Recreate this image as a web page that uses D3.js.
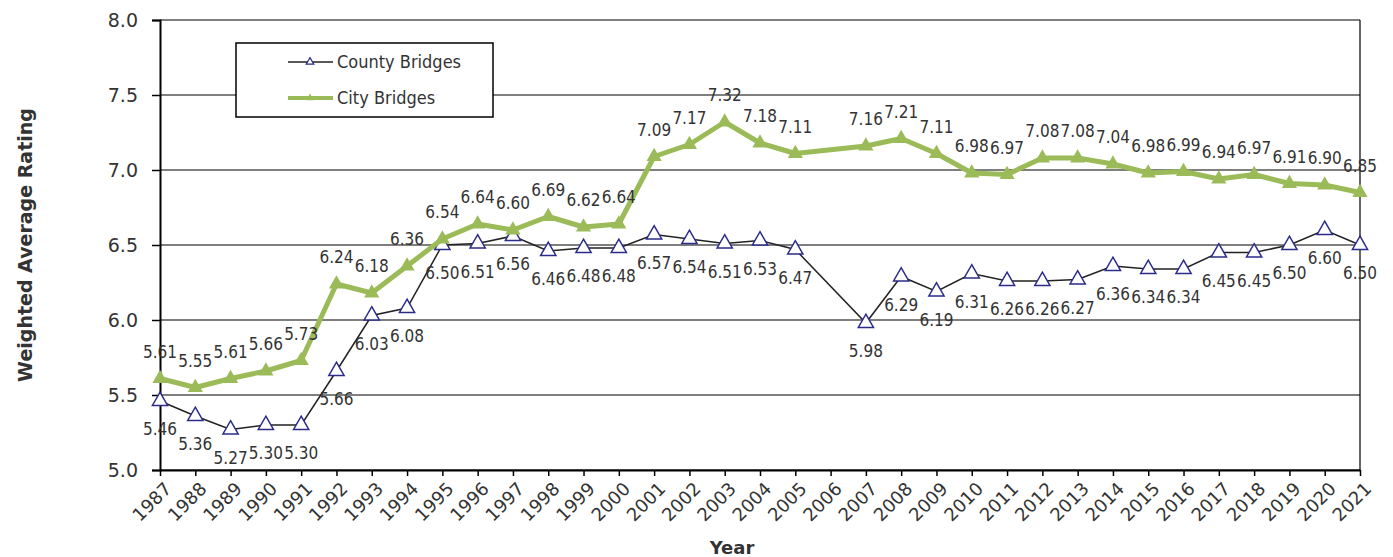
<!DOCTYPE html>
<html>
<head>
<meta charset="utf-8">
<script src="https://cdn.jsdelivr.net/npm/d3@7"></script>
<style>
  body { margin: 0; background: #fff; }
  text { fill: #333; }
</style>
</head>
<body>
<div id="canvas"></div>
<script>
const years = ["1987", "1988", "1989", "1990", "1991", "1992", "1993", "1994", "1995", "1996",
  "1997", "1998", "1999", "2000", "2001", "2002", "2003", "2004", "2005", "2006",
  "2007", "2008", "2009", "2010", "2011", "2012", "2013", "2014", "2015", "2016",
  "2017", "2018", "2019", "2020", "2021"];

// 2006 has no reading in either series
const county = [5.46, 5.36, 5.27, 5.30, 5.30, 5.66, 6.03, 6.08, 6.50, 6.51,
  6.56, 6.46, 6.48, 6.48, 6.57, 6.54, 6.51, 6.53, 6.47, null,
  5.98, 6.29, 6.19, 6.31, 6.26, 6.26, 6.27, 6.36, 6.34, 6.34,
  6.45, 6.45, 6.50, 6.60, 6.50];

const city = [5.61, 5.55, 5.61, 5.66, 5.73, 6.24, 6.18, 6.36, 6.54, 6.64,
  6.60, 6.69, 6.62, 6.64, 7.09, 7.17, 7.32, 7.18, 7.11, null,
  7.16, 7.21, 7.11, 6.98, 6.97, 7.08, 7.08, 7.04, 6.98, 6.99,
  6.94, 6.97, 6.91, 6.90, 6.85];

const yTicks = [5.0, 5.5, 6.0, 6.5, 7.0, 7.5, 8.0];

const width = 1393;
const height = 557;
const margin = { top: 20, left: 160, bottom: 87, right: 33 };
const iwidth = width - margin.left - margin.right;
const iheight = height - margin.top - margin.bottom;

const green = "#9bbb59";
const navy = "#2b2b8a";
const labelFont = "'DejaVu Sans Condensed', 'DejaVu Sans', sans-serif";
const axisFont = "'DejaVu Sans', Verdana, sans-serif";

const svg = d3.select("#canvas").append("svg")
  .attr("width", width)
  .attr("height", height);

const g = svg.append("g")
  .attr("transform", `translate(${margin.left},${margin.top})`);

const x = d3.scalePoint().domain(years).range([0, iwidth]).padding(0);
const y = d3.scaleLinear().domain([5, 8]).range([iheight, 0]);

// gridlines
g.append("g")
  .selectAll("line")
  .data(yTicks)
  .enter()
  .append("line")
  .attr("x1", 0)
  .attr("x2", iwidth)
  .attr("y1", (d) => y(d))
  .attr("y2", (d) => y(d))
  .attr("stroke", "#000")
  .attr("stroke-width", 1.2);

// right border
g.append("line")
  .attr("x1", iwidth).attr("x2", iwidth)
  .attr("y1", 0).attr("y2", iheight)
  .attr("stroke", "#000")
  .attr("stroke-width", 1.2);

// y axis
const yAxis = g.append("g")
  .call(d3.axisLeft(y).tickValues(yTicks).tickFormat(d3.format(".1f")).tickSize(8).tickPadding(14));
yAxis.select(".domain").attr("stroke", "#000").attr("stroke-width", 2);
yAxis.selectAll(".tick line").attr("stroke", "#000").attr("stroke-width", 1.5);
yAxis.selectAll("text")
  .attr("font-family", axisFont)
  .attr("font-size", 19)
  .attr("fill", "#333");

// x axis
const xAxis = g.append("g")
  .attr("transform", `translate(0, ${iheight})`)
  .call(d3.axisBottom(x).tickSize(6).tickSizeOuter(0));
xAxis.select(".domain").attr("stroke", "#000").attr("stroke-width", 2);
xAxis.selectAll(".tick line").attr("stroke", "#000").attr("stroke-width", 1.5);
xAxis.selectAll("text")
  .attr("font-family", axisFont)
  .attr("font-size", 18)
  .attr("fill", "#333")
  .attr("text-anchor", "end")
  .attr("dy", null)
  .attr("y", null)
  .attr("transform", "translate(12, 20) rotate(-45)");

// series
const countyPts = years.map((yr, i) => ({ year: yr, v: county[i] })).filter((d) => d.v !== null);
const cityPts = years.map((yr, i) => ({ year: yr, v: city[i] })).filter((d) => d.v !== null);

const line = d3.line()
  .x((d) => x(d.year))
  .y((d) => y(d.v));

const triCounty = d3.symbol().type(d3.symbolTriangle).size(100);
const triCity = d3.symbol().type(d3.symbolTriangle).size(100);

g.append("path")
  .datum(countyPts)
  .attr("d", line)
  .attr("fill", "none")
  .attr("stroke", "#222")
  .attr("stroke-width", 1.5);

g.append("g")
  .selectAll("path")
  .data(countyPts)
  .enter()
  .append("path")
  .attr("d", triCounty)
  .attr("transform", (d) => `translate(${x(d.year)},${y(d.v)})`)
  .attr("fill", "#fff")
  .attr("stroke", navy)
  .attr("stroke-width", 1.5);

g.append("path")
  .datum(cityPts)
  .attr("d", line)
  .attr("fill", "none")
  .attr("stroke", green)
  .attr("stroke-width", 5)
  .attr("stroke-linejoin", "round");

g.append("g")
  .selectAll("path")
  .data(cityPts)
  .enter()
  .append("path")
  .attr("d", triCity)
  .attr("transform", (d) => `translate(${x(d.year)},${y(d.v)})`)
  .attr("fill", green);

// data labels
g.append("g")
  .selectAll("text")
  .data(countyPts)
  .enter()
  .append("text")
  .attr("x", (d) => x(d.year))
  .attr("y", (d) => y(d.v) + 34)
  .attr("text-anchor", "middle")
  .attr("font-family", labelFont)
  .attr("font-size", 17)
  .text((d) => d.v.toFixed(2));

g.append("g")
  .selectAll("text")
  .data(cityPts)
  .enter()
  .append("text")
  .attr("x", (d) => x(d.year))
  .attr("y", (d) => y(d.v) - 21)
  .attr("text-anchor", "middle")
  .attr("font-family", labelFont)
  .attr("font-size", 17)
  .text((d) => d.v.toFixed(2));

// legend
const legend = svg.append("g").attr("transform", "translate(236,43)");
legend.append("rect")
  .attr("width", 257)
  .attr("height", 74)
  .attr("fill", "#fff")
  .attr("stroke", "#000")
  .attr("stroke-width", 1.5);

legend.append("line")
  .attr("x1", 52).attr("x2", 97).attr("y1", 19).attr("y2", 19)
  .attr("stroke", "#222").attr("stroke-width", 1.5);
legend.append("path")
  .attr("d", d3.symbol().type(d3.symbolTriangle).size(25))
  .attr("transform", "translate(74,19)")
  .attr("fill", "#fff")
  .attr("stroke", navy)
  .attr("stroke-width", 1.2);
legend.append("text")
  .attr("x", 101).attr("y", 25)
  .attr("font-family", labelFont)
  .attr("font-size", 18)
  .text("County Bridges");

legend.append("line")
  .attr("x1", 52).attr("x2", 97).attr("y1", 55).attr("y2", 55)
  .attr("stroke", green).attr("stroke-width", 4);
legend.append("path")
  .attr("d", d3.symbol().type(d3.symbolTriangle).size(25))
  .attr("transform", "translate(74,55)")
  .attr("fill", green);
legend.append("text")
  .attr("x", 101).attr("y", 61)
  .attr("font-family", labelFont)
  .attr("font-size", 18)
  .text("City Bridges");

// axis titles
svg.append("text")
  .attr("transform", `translate(32, ${margin.top + iheight / 2}) rotate(-90)`)
  .attr("text-anchor", "middle")
  .attr("font-family", axisFont)
  .attr("font-weight", "bold")
  .attr("font-size", 19)
  .text("Weighted Average Rating");

svg.append("text")
  .attr("x", 732)
  .attr("y", 554)
  .attr("text-anchor", "middle")
  .attr("font-family", axisFont)
  .attr("font-weight", "bold")
  .attr("font-size", 18)
  .text("Year");
</script>
</body>
</html>
